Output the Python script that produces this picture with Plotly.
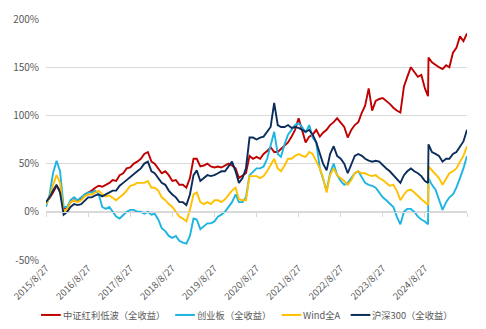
import plotly.graph_objects as go

dates = [
    "2015-08-27", "2015-09-27", "2015-10-27", "2015-11-27", "2015-12-27",
    "2016-01-27", "2016-02-27", "2016-03-27", "2016-04-27", "2016-05-27", "2016-06-27",
    "2016-07-27", "2016-08-27", "2016-09-27", "2016-10-27", "2016-11-27", "2016-12-27",
    "2017-01-27", "2017-02-27", "2017-03-27", "2017-04-27", "2017-05-27", "2017-06-27",
    "2017-07-27", "2017-08-27", "2017-09-27", "2017-10-27", "2017-11-27", "2017-12-27",
    "2018-01-27", "2018-02-27", "2018-03-27", "2018-04-27", "2018-05-27", "2018-06-27",
    "2018-07-27", "2018-08-27", "2018-09-27", "2018-10-27", "2018-11-27", "2018-12-27",
    "2019-01-27", "2019-02-27", "2019-03-27", "2019-04-27", "2019-05-27", "2019-06-27",
    "2019-07-27", "2019-08-27", "2019-09-27", "2019-10-27", "2019-11-27", "2019-12-27",
    "2020-01-27", "2020-02-27", "2020-03-27", "2020-04-27", "2020-05-27", "2020-06-27",
    "2020-07-27", "2020-08-27", "2020-09-27", "2020-10-27", "2020-11-27", "2020-12-27",
    "2021-01-27", "2021-02-27", "2021-03-27", "2021-04-27", "2021-05-27", "2021-06-27",
    "2021-07-27", "2021-08-27", "2021-09-27", "2021-10-27", "2021-11-27", "2021-12-27",
    "2022-01-27", "2022-02-27", "2022-03-27", "2022-04-27", "2022-05-27", "2022-06-27",
    "2022-07-27", "2022-08-27", "2022-09-27", "2022-10-27", "2022-11-27", "2022-12-27",
    "2023-01-27", "2023-02-27", "2023-03-27", "2023-04-27", "2023-05-27", "2023-06-27",
    "2023-07-27", "2023-08-27", "2023-09-27", "2023-10-27", "2023-11-27", "2023-12-27",
    "2024-01-27", "2024-02-27", "2024-03-27", "2024-04-27", "2024-05-27", "2024-06-27",
    "2024-07-27", "2024-08-27", "2024-09-23", "2024-09-27", "2024-10-27", "2024-11-27",
    "2024-12-27",
    "2025-01-27", "2025-02-27", "2025-03-27", "2025-04-27", "2025-05-27", "2025-06-27",
    "2025-07-27", "2025-08-27",
]

# cumulative returns, %
red_div_lowvol = [
    10, 14, 20, 27, 22,
    3, 5, 10, 12, 11, 14, 18, 20, 22, 25, 27, 26,
    28, 30, 33, 32, 38, 40, 45, 46, 50, 52, 55, 60,
    62, 52, 50, 45, 40, 42, 38, 32, 33, 28, 28, 25,
    35, 55, 55, 47, 48, 50, 47, 46, 47, 46, 48, 50,
    48, 45, 35, 38, 40, 58, 55, 57, 55, 60, 63, 67,
    62, 62, 65, 68, 72, 78, 85, 97, 85, 72, 78, 80,
    85, 78, 82, 85, 90, 93, 97, 92, 88, 77, 85, 90,
    93, 103, 110, 128, 105, 115, 117, 118, 115, 112, 108, 105,
    103, 130, 140, 150, 145, 140, 142, 128, 120, 160, 155, 152, 150,
    148, 152, 150, 165, 170, 182, 177, 185,
]
chinext = [
    5, 18, 40, 53, 42,
    5, 5, 12, 15, 12, 15, 18, 20, 20, 22, 18, 5,
    3, 5, 0, -5, -7, -3, 0, 2, 2, 0, 0, -2,
    0, -3, -2, -8, -17, -20, -25, -27, -25, -30, -32, -33,
    -25, -7, -8, -18, -15, -12, -12, -10, -5, -3, 0, 5,
    10, 18, 10, 10, 15, 38, 42, 45, 45, 47, 55, 70,
    83, 60, 57, 70, 80, 85, 90, 92, 88, 82, 90, 77,
    72, 45, 35, 22, 40, 50, 38, 32, 28, 30, 35, 40,
    42, 35, 30, 28, 27, 25, 20, 15, 12, 8, 5, -5,
    -13, 0, 3, 3, 0, -5, -8, -10, -13, 35, 28, 23, 12,
    2, 10, 15, 18, 25, 35, 45, 58,
]
wind_all_a = [
    8, 15, 28, 38, 30,
    0, 3, 10, 12, 10, 12, 16, 18, 18, 20, 22, 18,
    16, 17, 15, 12, 15, 18, 22, 27, 28, 30, 30, 30,
    32, 25, 25, 22, 15, 12, 8, 5, 0, -5, -7, -10,
    2, 18, 20, 10, 8, 10, 8, 12, 12, 10, 13, 18,
    22, 25, 13, 12, 12, 37, 37, 37, 35, 37, 42, 48,
    55, 45, 42, 48, 55, 55, 58, 60, 58, 57, 62, 60,
    52, 45, 35, 20, 38, 45, 38, 35, 32, 28, 33, 40,
    42, 40, 40, 38, 37, 38, 35, 33, 30, 27, 28, 22,
    12, 18, 22, 23, 20, 16, 13, 10, 7, 47, 43, 40, 35,
    28, 35, 40, 42, 45, 52, 58, 68,
]
csi300 = [
    10, 15, 22, 28, 20,
    -3, 0, 5, 8, 7, 8, 12, 15, 15, 17, 18, 16,
    18, 20, 22, 22, 27, 30, 33, 36, 40, 42, 45, 50,
    52, 42, 40, 35, 30, 28, 22, 18, 15, 10, 10, 7,
    18, 38, 43, 32, 35, 38, 37, 38, 40, 42, 42, 47,
    52, 42, 30, 35, 45, 77, 77, 75, 77, 78, 83, 88,
    113, 90, 88, 88, 90, 87, 88, 87, 85, 83, 85, 80,
    72, 60, 50, 43, 60, 68, 58, 55, 50, 40, 50, 58,
    60, 58, 55, 53, 52, 53, 52, 48, 45, 42, 38, 33,
    30, 38, 42, 45, 42, 40, 37, 32, 30, 70, 62, 60, 58,
    52, 55, 55, 60, 62, 68, 73, 85,
]

series_names = ["中证红利低波（全收益）", "创业板（全收益）", "Wind全A", "沪深300（全收益）"]
series_colors = ["#C00000", "#1EB4E1", "#FFC000", "#0B2D5B"]

x_tick_vals = ["2015-08-27", "2016-08-27", "2017-08-27", "2018-08-27", "2019-08-27",
               "2020-08-27", "2021-08-27", "2022-08-27", "2023-08-27", "2024-08-27"]
x_tick_text = ["2015/8/27", "2016/8/27", "2017/8/27", "2018/8/27", "2019/8/27",
               "2020/8/27", "2021/8/27", "2022/8/27", "2023/8/27", "2024/8/27"]
x_minor_ticks = x_tick_vals + ["2025-08-27"]
y_tick_vals = [-50, 0, 50, 100, 150, 200]
y_tick_text = ["-50%", "0%", "50%", "100%", "150%", "200%"]

FONT = "Noto Sans CJK SC, Liberation Sans, sans-serif"
GRID = "#D9D9D9"
TXT = "#595959"

# page geometry (pixels) for the plot box and the hand-placed legend row
W, H = 486, 329
ML, MR, MT, MB = 40, 19, 10, 69
PW, PH = W - ML - MR, H - MT - MB
legend_sample_px = [35, 171, 279, 349]   # left end of each legend line sample
legend_sample_len = 20
legend_row_y_px = 317

def px_x(px):
    return (px - ML) / PW

def px_y(py):
    return (H - MB - py) / PH

fig = go.Figure()
for name, vals, col in zip(series_names, [red_div_lowvol, chinext, wind_all_a, csi300], series_colors):
    fig.add_trace(go.Scatter(x=dates, y=vals, name=name, mode="lines",
                             line=dict(color=col, width=1.9)))

# empty trace holding the tick-mark axis drawn along 0%
fig.add_trace(go.Scatter(x=[dates[0]], y=[None], xaxis="x2", showlegend=False,
                         hoverinfo="skip", mode="lines"))

# legend row (drawn as shapes + text so its spacing matches the original)
ly = px_y(legend_row_y_px)
for name, col, sx in zip(series_names, series_colors, legend_sample_px):
    fig.add_shape(type="line", xref="paper", yref="paper",
                  x0=px_x(sx), x1=px_x(sx + legend_sample_len), y0=ly, y1=ly,
                  line=dict(color=col, width=2))
    fig.add_annotation(xref="paper", yref="paper", x=px_x(sx + legend_sample_len + 1), y=ly,
                       xanchor="left", yanchor="middle", text=name, showarrow=False,
                       borderpad=0, font=dict(size=9.3, color=TXT, family=FONT))

xr = ["2015-08-27", "2025-08-27"]
fig.update_layout(
    width=W, height=H,
    margin=dict(l=ML, r=MR, t=MT, b=MB),
    paper_bgcolor="white", plot_bgcolor="white",
    font=dict(family=FONT, size=10, color=TXT),
    showlegend=False,
    xaxis=dict(type="date", range=xr, tickvals=x_tick_vals, ticktext=x_tick_text,
               tickangle=-45, showgrid=False, zeroline=False, showline=False,
               ticks="", tickfont=dict(size=9.5, color=TXT)),
    xaxis2=dict(type="date", range=xr, overlaying="x", anchor="free", position=px_y(210),
                tickvals=x_minor_ticks, showticklabels=False, ticks="outside",
                ticklen=4, tickcolor=GRID, tickwidth=1, showline=True,
                linecolor=GRID, linewidth=1, showgrid=False, zeroline=False),
    yaxis=dict(range=[-50, 200], tickvals=y_tick_vals, ticktext=y_tick_text,
               showgrid=True, gridcolor=GRID, gridwidth=1, zeroline=False,
               showline=False, ticks="", ticklabelstandoff=6,
               tickfont=dict(size=10, color=TXT)),
)

fig.write_html("out.html")
